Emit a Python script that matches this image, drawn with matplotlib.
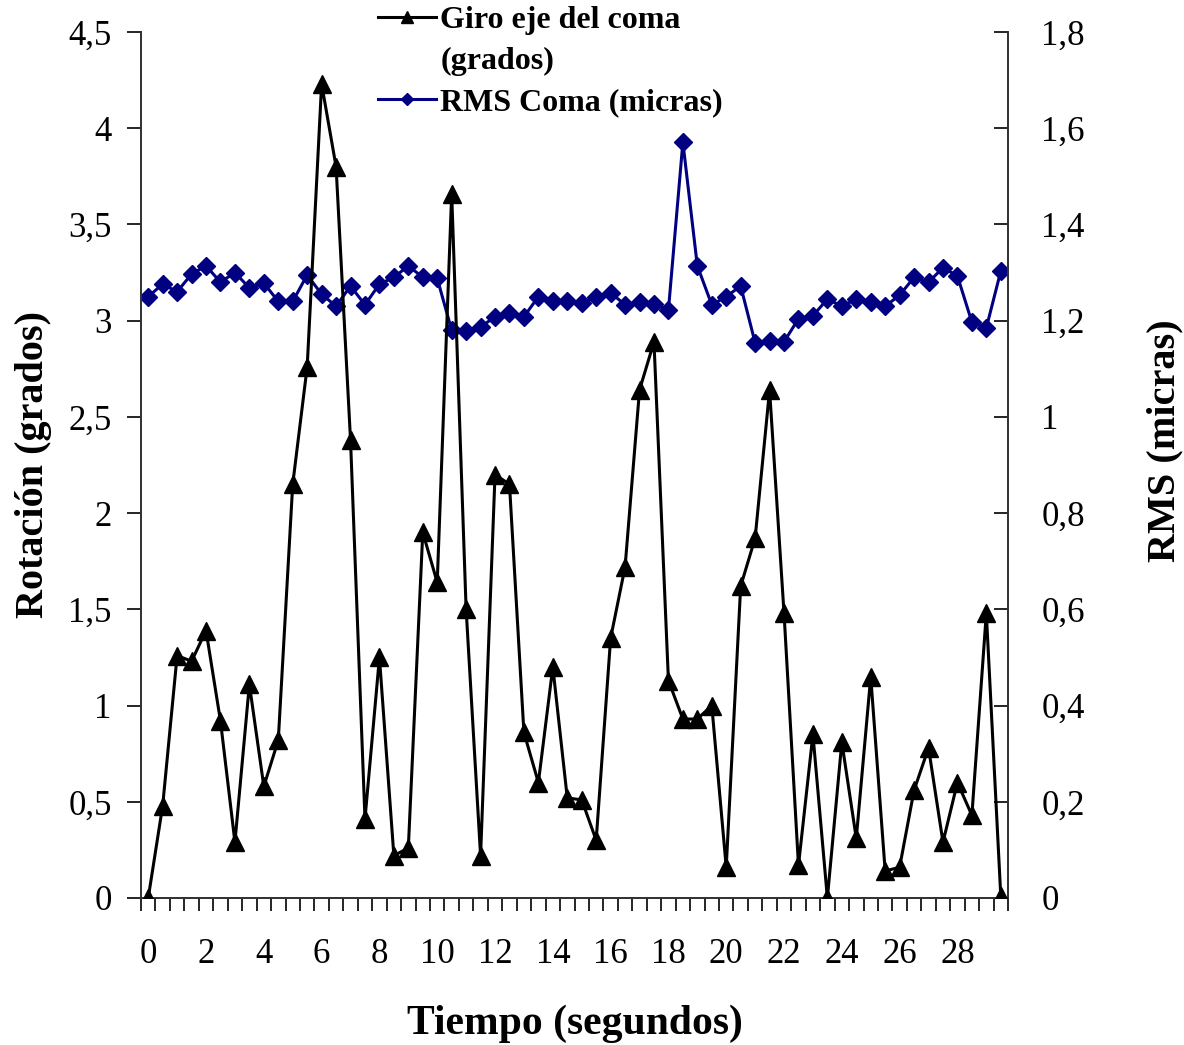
import numpy as np
import matplotlib.pyplot as plt
from matplotlib.lines import Line2D

# tiempo en segundos (cada 0,5 s)
tiempo = np.arange(60) * 0.5

# giro del eje del coma (grados)
giro = [0.00, 0.48, 1.26, 1.23, 1.39, 0.92, 0.29, 1.11, 0.58, 0.82,
        2.15, 2.76, 4.23, 3.80, 2.38, 0.41, 1.25, 0.22, 0.26, 1.90,
        1.64, 3.66, 1.50, 0.22, 2.20, 2.15, 0.86, 0.60, 1.20, 0.52,
        0.51, 0.30, 1.35, 1.72, 2.64, 2.89, 1.13, 0.93, 0.93, 1.00,
        0.16, 1.62, 1.87, 2.64, 1.48, 0.17, 0.85, 0.00, 0.81, 0.31,
        1.15, 0.14, 0.16, 0.56, 0.78, 0.29, 0.60, 0.43, 1.48, 0.01]

# RMS coma (micras)
rms = [1.250, 1.276, 1.260, 1.297, 1.314, 1.280, 1.300, 1.268, 1.278, 1.240,
       1.240, 1.295, 1.255, 1.230, 1.272, 1.233, 1.276, 1.290, 1.314, 1.290,
       1.288, 1.180, 1.178, 1.187, 1.208, 1.216, 1.208, 1.250, 1.240, 1.240,
       1.237, 1.250, 1.258, 1.233, 1.239, 1.235, 1.222, 1.571, 1.314, 1.233,
       1.250, 1.272, 1.154, 1.158, 1.156, 1.204, 1.210, 1.245, 1.230, 1.245,
       1.239, 1.230, 1.253, 1.290, 1.280, 1.310, 1.293, 1.197, 1.185, 1.303]

xticks = list(range(0, 29, 2))
yticks_izq = [0, 0.5, 1, 1.5, 2, 2.5, 3, 3.5, 4, 4.5]
yticks_der = [0, 0.2, 0.4, 0.6, 0.8, 1.0, 1.2, 1.4, 1.6, 1.8]

plt.rcParams['font.family'] = ['Liberation Serif', 'DejaVu Serif']

def coma(v):
    s = ('%g' % v)
    return s.replace('.', ',')

fig = plt.figure(figsize=(11.84, 10.45), dpi=100)
ax = fig.add_axes([141/1184, 1 - 898/1045, (1008-141)/1184, (898-32)/1045])
ax2 = ax.twinx()

ax.plot(tiempo, giro, color='black', lw=2.2, marker='^', ms=13, zorder=3)
ax2.plot(tiempo, rms, color='#000080', lw=2.2, marker='D', ms=9)
ax.set_zorder(ax2.get_zorder() + 1)
ax.patch.set_visible(False)

ax.set_xlim(-0.25, 29.75)
ax.set_ylim(0, 4.5)
ax2.set_ylim(0, 1.8)

ax.set_xticks(xticks)
ax.set_xticklabels([str(t) for t in xticks])
ax.set_xticks(np.arange(-0.25, 29.8, 0.5), minor=True)
ax.tick_params(axis='x', which='major', length=0, pad=29, labelsize=25)
ax.tick_params(axis='x', which='minor', length=9, width=1.2, direction='out')

ax.set_yticks(yticks_izq)
ax.set_yticklabels([coma(v) for v in yticks_izq])
ax.tick_params(axis='y', length=10, width=1.2, direction='out', pad=11, labelsize=25)

ax2.set_yticks(yticks_der)
ax2.set_yticklabels([coma(v) for v in yticks_der])
ax2.tick_params(axis='y', length=10, width=1.2, direction='in', pad=24, labelsize=25)

for a in (ax, ax2):
    a.spines['top'].set_visible(False)
    for s in ('left', 'right', 'bottom'):
        a.spines[s].set_linewidth(1.3)
        a.spines[s].set_color('#333333')

ax.set_xlabel('Tiempo (segundos)', fontsize=30, fontweight='bold', labelpad=24)
ax.set_ylabel('Rotación (grados)', fontsize=29, fontweight='bold', labelpad=12)
ax2.set_ylabel('RMS (micras)', fontsize=29, fontweight='bold')
ax2.yaxis.set_label_coords(1.16, 0.528)

h1 = Line2D([], [], color='black', lw=2.2, marker='^', ms=9)
h0 = Line2D([], [], color='none')
h2 = Line2D([], [], color='#000080', lw=2.2, marker='D', ms=6)
fig.legend([h1, h0, h2], ['Giro eje del coma', '(grados)', 'RMS Coma (micras)'],
           loc='upper left', bbox_to_anchor=(378/1184, 1 - 6/1045), frameon=False,
           prop={'weight': 'bold', 'size': 23}, handlelength=1.8, handletextpad=0.15,
           labelspacing=0.36, borderpad=0, borderaxespad=0)

fig.savefig('out.png', dpi=100)
